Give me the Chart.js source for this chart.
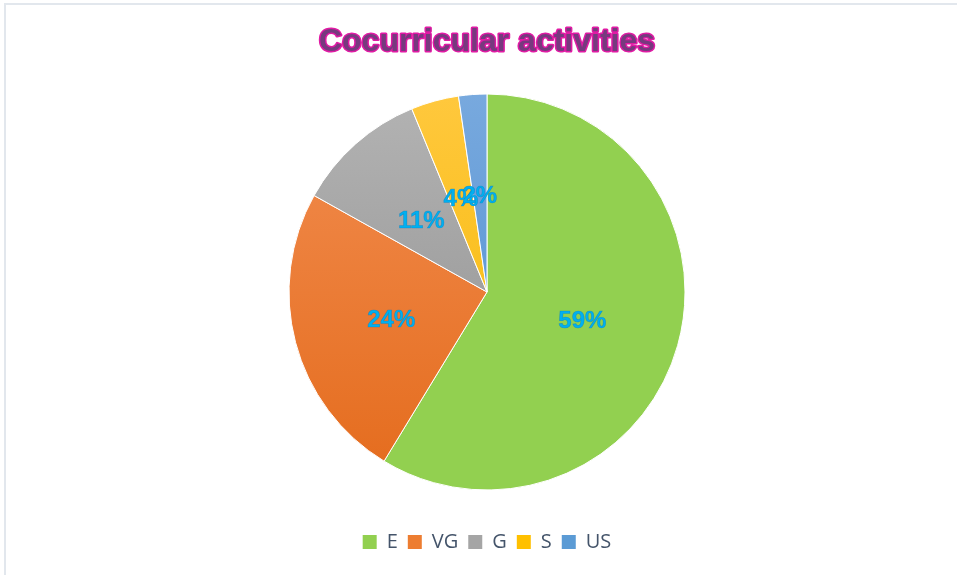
<!DOCTYPE html>
<html lang="en">
<head>
    <meta charset="UTF-8">
    <title>Cocurricular activities</title>
    <script src="https://cdn.jsdelivr.net/npm/chart.js"></script>
    <style>
        html, body { margin: 0; padding: 0; background: #fff; }
        .frame {
            position: absolute; left: 4px; top: 3px; right: 0; bottom: 0;
            border-left: 2px solid #e2e7ed; border-top: 2px solid #e2e7ed;
        }
        .chart-box { position: absolute; left: 0; top: 0; width: 957px; height: 575px; }
    </style>
</head>
<body>
    <div class="frame"></div>
    <div class="chart-box"><canvas id="pieChart"></canvas></div>

    <script>
        // data
        const categories = ['E', 'VG', 'G', 'S', 'US'];
        const shares = [58.7, 24.4, 10.7, 3.9, 2.3];

        // slice colours, light (top) to dark (bottom)
        const topColors = ['#92d050', '#f28d50', '#b3b3b3', '#ffc83d', '#78a9de'];
        const bottomColors = ['#92d050', '#e46b1c', '#8e8e8e', '#f4b700', '#4a8bcf'];
        const legendColors = ['#92d050', '#ed7d31', '#a5a5a5', '#ffc000', '#5b9bd5'];

        const PIE_RADIUS = 198;

        function sliceColor(context) {
            const chart = context.chart;
            const area = chart.chartArea;
            const i = context.dataIndex;
            if (!area) return legendColors[i];
            const cy = (area.top + area.bottom) / 2;
            const g = chart.ctx.createLinearGradient(0, cy - PIE_RADIUS, 0, cy + PIE_RADIUS);
            g.addColorStop(0, topColors[i]);
            g.addColorStop(1, bottomColors[i]);
            return g;
        }

        // title drawn with an outline like the original
        const titlePlugin = {
            id: 'outlinedTitle',
            afterDraw(chart) {
                const ctx = chart.ctx;
                const area = chart.chartArea;
                const x = (area.left + area.right) / 2;
                ctx.save();
                ctx.font = 'bold 32px "Liberation Sans", Arial, sans-serif';
                ctx.textAlign = 'center';
                ctx.textBaseline = 'middle';
                ctx.lineJoin = 'round';
                ctx.lineWidth = 3;
                ctx.strokeStyle = '#e01aa4';
                ctx.strokeText('Cocurricular activities', x, 42);
                ctx.fillStyle = '#763a7e';
                ctx.fillText('Cocurricular activities', x, 42);
                ctx.restore();
            }
        };

        // percentage labels in the middle of each slice
        const sliceLabels = {
            id: 'sliceLabels',
            afterDatasetsDraw(chart) {
                const ctx = chart.ctx;
                const meta = chart.getDatasetMeta(0);
                const data = chart.data.datasets[0].data;
                const total = data.reduce((a, b) => a + b, 0);
                ctx.save();
                ctx.font = 'bold 24px "Liberation Sans", Arial, sans-serif';
                ctx.textAlign = 'center';
                ctx.textBaseline = 'middle';
                ctx.fillStyle = '#00b0f0';
                ctx.strokeStyle = 'rgba(0,120,190,0.5)';
                ctx.lineWidth = 0.6;
                meta.data.forEach((arc, i) => {
                    const p = arc.tooltipPosition();
                    const txt = Math.round(data[i] / total * 100) + '%';
                    ctx.fillText(txt, p.x, p.y + 3);
                    ctx.strokeText(txt, p.x, p.y + 3);
                });
                ctx.restore();
            }
        };

        new Chart(document.getElementById('pieChart'), {
            type: 'pie',
            data: {
                labels: categories,
                datasets: [{
                    data: shares,
                    backgroundColor: sliceColor,
                    borderColor: '#ffffff',
                    borderWidth: 1
                }]
            },
            options: {
                responsive: true,
                maintainAspectRatio: false,
                animation: false,
                radius: PIE_RADIUS,
                layout: { padding: { top: 62, bottom: 13, left: 17, right: 0 } },
                plugins: {
                    tooltip: { enabled: false },
                    legend: {
                        position: 'bottom',
                        labels: {
                            boxWidth: 14,
                            boxHeight: 14,
                            padding: 10,
                            color: '#44546a',
                            font: { family: '"Open Sans", sans-serif', size: 20 },
                            generateLabels(chart) {
                                return categories.map((c, i) => ({
                                    text: c,
                                    fillStyle: legendColors[i],
                                    strokeStyle: legendColors[i],
                                    lineWidth: 0,
                                    fontColor: '#44546a',
                                    index: i,
                                    hidden: false
                                }));
                            }
                        }
                    }
                }
            },
            plugins: [titlePlugin, sliceLabels]
        });
    </script>
</body>
</html>
